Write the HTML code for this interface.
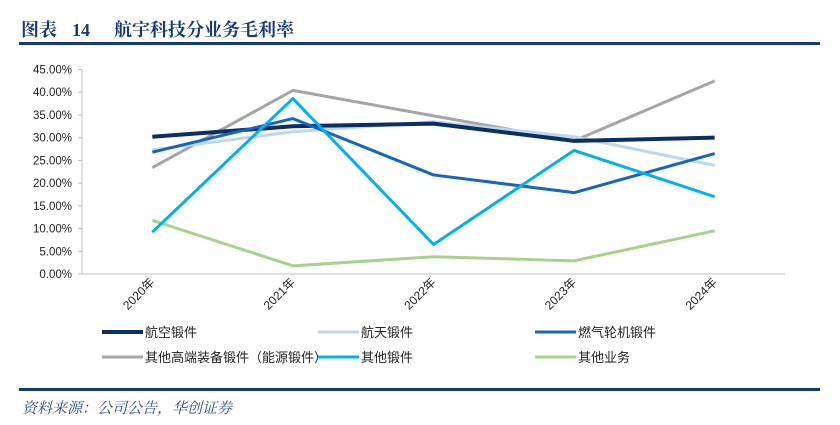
<!DOCTYPE html>
<html><head><meta charset="utf-8"><style>
body{margin:0;background:#fff;width:840px;height:425px;overflow:hidden;font-family:"Liberation Sans","Noto Sans CJK SC",sans-serif}
svg{display:block}
</style></head><body>
<svg width="840" height="425" xmlns="http://www.w3.org/2000/svg">
<text y="36" font-family="'Liberation Serif','Noto Serif CJK SC',serif" font-weight="bold" font-size="18" fill="#163a78"><tspan x="21">图表</tspan><tspan x="72">14</tspan><tspan x="114">航宇科技分业务毛利率</tspan></text>
<rect x="19" y="42" width="801" height="3" fill="#163a78"/>
<g id="plot"></g>
<g id="legend"></g>
<rect x="19" y="388" width="801" height="3" fill="#163a78"/>
<text x="22" y="413" font-family="'Noto Serif CJK SC',serif" font-style="italic" font-size="15" fill="#2a4c8c">资料来源：公司公告，华创证券</text>
</svg>
<script>
const categories=["2020年","2021年","2022年","2023年","2024年"];
const seriesNames=["航空锻件","航天锻件","燃气轮机锻件","其他高端装备锻件（能源锻件）","其他锻件","其他业务"];
const hangkong=[30.2,32.5,33.1,29.3,30.0];
const hangtian=[27.3,31.3,33.5,30.2,23.9];
const ranqi=[26.8,34.2,21.8,17.9,26.5];
const gaoduan=[23.4,40.4,34.8,29.3,42.5];
const qitaduan=[9.2,38.6,6.5,27.2,17.0];
const qitayewu=[11.8,1.8,3.8,2.9,9.5];
const yTicks=[0,5,10,15,20,25,30,35,40,45];
const NS="http://www.w3.org/2000/svg";
const plot=document.getElementById('plot'),legend=document.getElementById('legend');
const x0=82,x1=785,yb=274,yt=69.5;
const xs=i=>x0+(x1-x0)/categories.length*(i+0.5);
const ys=v=>yb-(v/45)*(yb-yt);
function mk(t,a,p){const e=document.createElementNS(NS,t);for(const k in a)e.setAttribute(k,a[k]);p.appendChild(e);return e;}
let ax=mk('line',{x1:x0,y1:yt,x2:x0,y2:yb,stroke:'#bfbfbf','stroke-width':1},plot);


let xa=mk('line',{x1:x0,y1:yb,x2:x1,y2:yb,stroke:'#bfbfbf','stroke-width':1},plot);


yTicks.forEach(v=>{
 const t=mk('text',{x:72,y:ys(v)+4,'text-anchor':'end','font-size':11.5,fill:'#222'},plot);t.textContent=v.toFixed(2)+'%';
 
 
 const l=mk('line',{x1:x0-4,y1:ys(v),x2:x0,y2:ys(v),stroke:'#bfbfbf'},plot);
 
 
});
categories.forEach((c,i)=>{
 const t=mk('text',{x:xs(i)+3,y:283,'text-anchor':'end','font-size':12,fill:'#222',transform:`rotate(-45 ${xs(i)+3} 283)`},plot);t.textContent=c;
 
 
});
const data=[hangkong,hangtian,ranqi,gaoduan,qitaduan,qitayewu];
const colors=['#0b2f63','#bdd7ee','#1665bf','#a5a5a5','#00b0f0','#a9d18e'];
const widths=[4,3,3,3,3,3];
const order=[5,3,1,0,2,4];
const slugs=['aviation-forgings','aerospace-forgings','gas-turbine-forgings','energy-forgings','other-forgings','other-business'];
order.forEach(s=>{
 const p=mk('polyline',{points:data[s].map((v,i)=>xs(i)+','+ys(v)).join(' '),fill:'none',stroke:colors[s],'stroke-width':widths[s],'stroke-linejoin':'round'},plot);
 
 
});
const lx=[102,318,535],ly=[332,357];
seriesNames.forEach((n,s)=>{
 const cx=lx[s%3],cy=ly[Math.floor(s/3)];
 const l=mk('line',{x1:cx,y1:cy,x2:cx+41,y2:cy,stroke:colors[s],'stroke-width':widths[s]},legend);
 
 
 const t=mk('text',{x:cx+43,y:cy+5,'font-size':13,fill:'#222'},legend);t.textContent=n;
 
 
});
</script>
</body></html>
